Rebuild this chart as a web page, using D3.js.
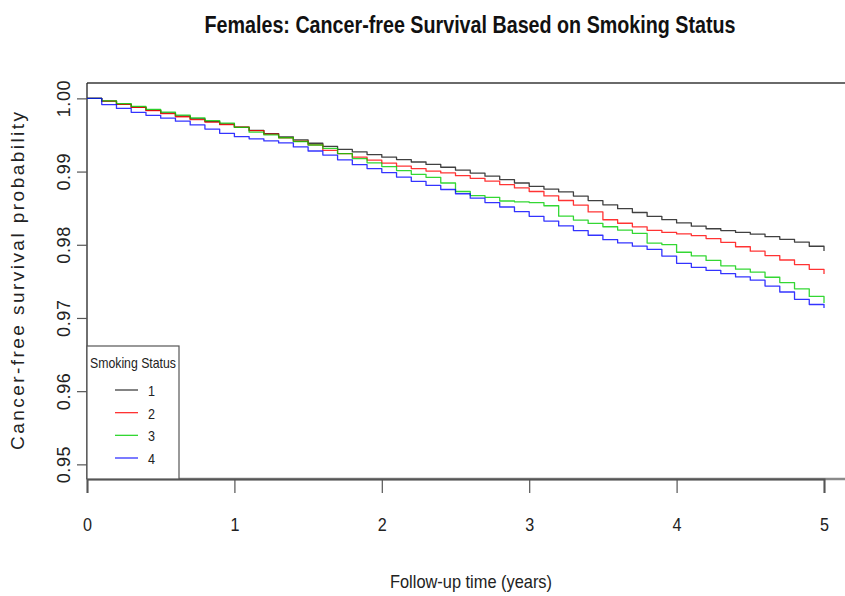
<!DOCTYPE html>
<html>
<head>
<meta charset="utf-8">
<script src="https://cdn.jsdelivr.net/npm/d3@7"></script>
<style>
  html, body { margin: 0; padding: 0; background: #fff; }
  svg { display: block; }
  text { font-family: 'Liberation Sans', Arial, sans-serif; }
</style>
</head>
<body>
<svg id="chart" width="845" height="596"></svg>
<script>
// Follow-up time grid (years) shared by all four Kaplan-Meier curves
const years = [0.0, 0.1, 0.2, 0.3, 0.4, 0.5, 0.6, 0.7, 0.8, 0.9,
               1.0, 1.1, 1.2, 1.3, 1.4, 1.5, 1.6, 1.7, 1.8, 1.9,
               2.0, 2.1, 2.2, 2.3, 2.4, 2.5, 2.6, 2.7, 2.8, 2.9,
               3.0, 3.1, 3.2, 3.3, 3.4, 3.5, 3.6, 3.7, 3.8, 3.9,
               4.0, 4.1, 4.2, 4.3, 4.4, 4.5, 4.6, 4.7, 4.8, 4.9, 5.0];

// Cancer-free survival probability, smoking status 1..4
const status1 = [1.00000, 0.99962, 0.99919, 0.99878, 0.99837, 0.99798, 0.99757, 0.99720, 0.99683, 0.99648,
                 0.99608, 0.99564, 0.99519, 0.99475, 0.99432, 0.99387, 0.99343, 0.99303, 0.99268, 0.99232,
                 0.99197, 0.99164, 0.99131, 0.99098, 0.99059, 0.99019, 0.98980, 0.98937, 0.98891, 0.98844,
                 0.98799, 0.98761, 0.98723, 0.98665, 0.98604, 0.98545, 0.98493, 0.98441, 0.98389, 0.98343,
                 0.98298, 0.98254, 0.98219, 0.98194, 0.98169, 0.98145, 0.98111, 0.98074, 0.98037, 0.97980, 0.97914];
const status2 = [1.00000, 0.99962, 0.99919, 0.99877, 0.99833, 0.99792, 0.99749, 0.99709, 0.99676, 0.99643,
                 0.99607, 0.99559, 0.99511, 0.99462, 0.99414, 0.99366, 0.99290, 0.99246, 0.99198, 0.99157,
                 0.99116, 0.99075, 0.99041, 0.99007, 0.98981, 0.98944, 0.98908, 0.98869, 0.98822, 0.98776,
                 0.98728, 0.98667, 0.98605, 0.98542, 0.98448, 0.98342, 0.98294, 0.98245, 0.98197, 0.98168,
                 0.98148, 0.98124, 0.98085, 0.98034, 0.97973, 0.97913, 0.97852, 0.97792, 0.97730, 0.97665, 0.97600];
const status3 = [1.00000, 0.99967, 0.99929, 0.99892, 0.99851, 0.99811, 0.99770, 0.99734, 0.99697, 0.99661,
                 0.99605, 0.99538, 0.99501, 0.99462, 0.99411, 0.99363, 0.99317, 0.99246, 0.99178, 0.99119,
                 0.99068, 0.99014, 0.98962, 0.98922, 0.98844, 0.98728, 0.98672, 0.98648, 0.98598, 0.98587,
                 0.98577, 0.98533, 0.98391, 0.98337, 0.98291, 0.98246, 0.98201, 0.98156, 0.98023, 0.98003,
                 0.97898, 0.97847, 0.97786, 0.97713, 0.97667, 0.97626, 0.97556, 0.97484, 0.97398, 0.97294, 0.97204];
const status4 = [1.00000, 0.99915, 0.99862, 0.99810, 0.99769, 0.99730, 0.99689, 0.99637, 0.99581, 0.99523,
                 0.99477, 0.99448, 0.99419, 0.99392, 0.99337, 0.99281, 0.99225, 0.99161, 0.99094, 0.99041,
                 0.98986, 0.98925, 0.98867, 0.98811, 0.98755, 0.98697, 0.98637, 0.98577, 0.98516, 0.98452,
                 0.98388, 0.98324, 0.98258, 0.98194, 0.98130, 0.98070, 0.98025, 0.97981, 0.97936, 0.97846,
                 0.97746, 0.97692, 0.97650, 0.97605, 0.97561, 0.97516, 0.97436, 0.97355, 0.97254, 0.97184, 0.97135];

const groupLabels = ["1", "2", "3", "4"];
const groupColors = ["#000000", "#ff0000", "#00cd00", "#0000ff"];
const xTicks = [0, 1, 2, 3, 4, 5];
const yTicks = [0.95, 0.96, 0.97, 0.98, 0.99, 1.00];

const titleText = "Females: Cancer-free Survival Based on Smoking Status";
const xTitle = "Follow-up time (years)";
const yTitle = "Cancer-free survival probability";
const legendTitle = "Smoking Status";

const svg = d3.select("#chart");
const plot = { left: 87, top: 83, bottom: 479, right: 845 };

const x = d3.scaleLinear().domain([0, 5]).range([87, 824]);
const y = d3.scaleLinear().domain([0.948, 1.0021]).range([plot.bottom, plot.top]);

// Title: bold, condensed
svg.append("text")
  .attr("x", 470).attr("y", 33)
  .attr("text-anchor", "middle")
  .attr("font-size", 23).attr("font-weight", "bold")
  .attr("textLength", 531).attr("lengthAdjust", "spacingAndGlyphs")
  .attr("fill", "#111")
  .text(titleText);

// Plot frame (continues past the right edge)
svg.append("line").attr("x1", plot.left).attr("x2", plot.right)
  .attr("y1", plot.top).attr("y2", plot.top)
  .attr("stroke", "#6a6a6a").attr("stroke-width", 2);
svg.append("line").attr("x1", plot.left).attr("x2", plot.right)
  .attr("y1", plot.bottom).attr("y2", plot.bottom)
  .attr("stroke", "#8a8a8a").attr("stroke-width", 2.5);
svg.append("line").attr("x1", plot.left).attr("x2", plot.left)
  .attr("y1", plot.top).attr("y2", plot.bottom)
  .attr("stroke", "#222").attr("stroke-width", 1.3);

// Survival curves
const series = [status1, status2, status3, status4];
const stepLine = d3.line()
  .x(d => x(d[0]))
  .y(d => y(d[1]))
  .curve(d3.curveStepAfter);

series.forEach((vals, i) => {
  svg.append("path")
    .datum(years.map((t, k) => [t, vals[k]]))
    .attr("fill", "none")
    .attr("stroke", groupColors[i])
    .attr("stroke-opacity", i === 0 ? 0.75 : 0.8)
    .attr("stroke-width", 1.3)
    .attr("stroke-linejoin", "round")
    .attr("d", stepLine);
});

// Y axis with rotated labels
const yAxis = svg.append("g")
  .attr("transform", `translate(${plot.left},0)`)
  .call(d3.axisLeft(y).tickValues(yTicks).tickSize(10).tickFormat(d3.format(".2f")));
yAxis.select(".domain").remove();
yAxis.selectAll(".tick line").attr("stroke", "#555").attr("stroke-width", 1.2);
yAxis.selectAll(".tick text")
  .attr("x", null).attr("dy", null)
  .attr("text-anchor", "middle")
  .attr("transform", "translate(-17,0) rotate(-90)")
  .attr("font-size", 18)
  .attr("textLength", 37).attr("lengthAdjust", "spacing")
  .attr("fill", "#222");

// X axis with narrow labels
const xAxis = svg.append("g")
  .attr("transform", `translate(0,${plot.bottom})`)
  .call(d3.axisBottom(x).tickValues(xTicks).tickSize(14).tickFormat(d3.format("d")));
xAxis.select(".domain").attr("stroke", "#555").attr("stroke-width", 2);
xAxis.selectAll(".tick line").attr("stroke", "#555").attr("stroke-width", 1.2);
xAxis.selectAll(".tick text")
  .attr("y", 52).attr("dy", null)
  .attr("font-size", 19)
  .attr("textLength", 9).attr("lengthAdjust", "spacingAndGlyphs")
  .attr("fill", "#222");

// Axis titles
svg.append("text")
  .attr("x", 390).attr("y", 588)
  .attr("font-size", 19)
  .attr("textLength", 162).attr("lengthAdjust", "spacingAndGlyphs")
  .attr("fill", "#222")
  .text(xTitle);

svg.append("text")
  .attr("transform", "translate(24,450) rotate(-90)")
  .attr("font-size", 19)
  .attr("textLength", 338).attr("lengthAdjust", "spacing")
  .attr("fill", "#222")
  .text(yTitle);

// Legend
const legend = svg.append("g");
legend.append("rect")
  .attr("x", 87).attr("y", 346).attr("width", 92).attr("height", 133)
  .attr("fill", "#fff").attr("stroke", "#555").attr("stroke-width", 1.2);
legend.append("text")
  .attr("x", 90).attr("y", 368)
  .attr("font-size", 15)
  .attr("textLength", 86).attr("lengthAdjust", "spacingAndGlyphs")
  .attr("fill", "#222")
  .text(legendTitle);
const legendY = d3.scalePoint().domain(groupLabels).range([390, 458]);
groupLabels.forEach((g, i) => {
  legend.append("line")
    .attr("x1", 115).attr("x2", 138)
    .attr("y1", legendY(g)).attr("y2", legendY(g))
    .attr("stroke", groupColors[i])
    .attr("stroke-opacity", i === 0 ? 0.75 : 0.8)
    .attr("stroke-width", 1.3);
  legend.append("text")
    .attr("x", 148).attr("y", legendY(g) + 6)
    .attr("font-size", 15)
    .attr("textLength", 7).attr("lengthAdjust", "spacingAndGlyphs")
    .attr("fill", "#222")
    .text(g);
});
</script>
</body>
</html>
